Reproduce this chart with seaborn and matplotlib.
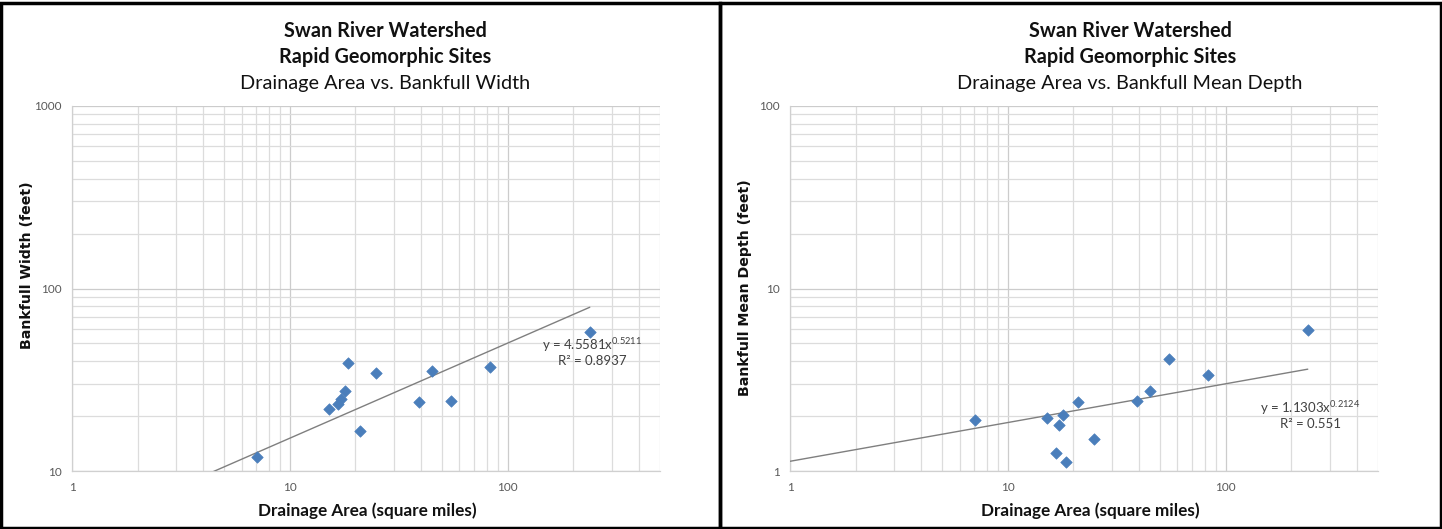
import numpy as np
import pandas as pd
import matplotlib
matplotlib.use("Agg")
import matplotlib.pyplot as plt
from matplotlib.patches import Rectangle
from matplotlib.ticker import LogLocator, FixedLocator, NullFormatter
import seaborn as sns

# drainage area (square miles) for each rapid geomorphic site
area = [7.1, 15.2, 16.7, 17.1, 17.9, 18.4, 20.9, 24.9, 39.1, 44.8, 55.0, 83.3, 238.0]
# bankfull width (feet)
width = [12.0, 22.0, 23.2, 24.7, 27.6, 39.3, 16.5, 34.4, 23.8, 35.2, 24.3, 37.3, 57.5]
# bankfull mean depth (feet)
depth = [1.91, 1.94, 1.26, 1.78, 2.02, 1.12, 2.40, 1.50, 2.41, 2.73, 4.11, 3.36, 5.95]

# power trendlines shown on the charts (coef, exponent, R^2)
width_fit = (4.5581, 0.5211, 0.8937)
depth_fit = (1.1303, 0.2124, 0.551)

df = pd.DataFrame({"area": area, "width": width, "depth": depth})

sns.set_style("white")
plt.rcParams["font.family"] = ["Lato", "DejaVu Sans"]
plt.rcParams["mathtext.fontset"] = "custom"
plt.rcParams["mathtext.rm"] = "Lato"

fig = plt.figure(figsize=(14.42, 5.29), dpi=100)

W, H = 1442.0, 529.0


def px_axes(x0, x1, y0, y1):
    return fig.add_axes([x0 / W, 1 - y1 / H, (x1 - x0) / W, (y1 - y0) / H])


panels = [
    dict(ax=px_axes(72, 660, 106, 471), y="width", fit=width_fit, ylim=(10, 1000),
         ylabel="Bankfull Width (feet)", sub="Drainage Area vs. Bankfull Width",
         title_x=385, ylab_x=27, ylab_y=265, eq_x=592, eq_y=345, xlab_x=367),
    dict(ax=px_axes(790, 1378, 106, 471), y="depth", fit=depth_fit, ylim=(1, 100),
         ylabel="Bankfull Mean Depth (feet)", sub="Drainage Area vs. Bankfull Mean Depth",
         title_x=1130, ylab_x=745, ylab_y=288, eq_x=1310, eq_y=408, xlab_x=1090),
]

for p in panels:
    ax = p["ax"]
    ax.set_xscale("log")
    ax.set_yscale("log")
    ax.set_xlim(1, 500)
    ax.set_ylim(*p["ylim"])

    # grid lines
    ax.xaxis.set_minor_locator(LogLocator(base=10, subs=np.arange(2, 10)))
    ax.yaxis.set_minor_locator(LogLocator(base=10, subs=np.arange(2, 10)))
    ax.xaxis.set_minor_formatter(NullFormatter())
    ax.yaxis.set_minor_formatter(NullFormatter())
    ax.grid(True, which="minor", color="#dcdcdc", lw=0.9)
    ax.grid(True, which="major", color="#cccccc", lw=0.9)
    ax.set_axisbelow(True)

    lo, hi = p["ylim"]
    ax.yaxis.set_major_locator(FixedLocator([lo, lo * 10, hi]))
    ax.xaxis.set_major_locator(FixedLocator([1, 10, 100]))
    ax.set_xticklabels(["1", "10", "100"])
    ax.set_yticklabels([f"{v:g}" for v in [lo, lo * 10, hi]])
    ax.tick_params(axis="both", which="major", labelsize=8.5, colors="#595959",
                   length=4, width=0.8, direction="out", color="#d0d0d0")
    ax.tick_params(axis="x", which="major", pad=8, length=0)
    ax.tick_params(which="minor", length=0)

    for side in ["top", "right"]:
        ax.spines[side].set_visible(False)
    for side in ["left", "bottom"]:
        ax.spines[side].set_color("#d0d0d0")
        ax.spines[side].set_linewidth(0.9)

    # trendline
    a, b, r2 = p["fit"]
    xs = np.geomspace(1, max(area), 50)
    trend = pd.DataFrame({"x": xs, "y": a * xs ** b})
    sns.lineplot(data=trend, x="x", y="y", ax=ax, color="#7f7f7f", lw=1.0, zorder=3)

    sns.scatterplot(data=df, x="area", y=p["y"], ax=ax, marker="D", s=34,
                    color="#4a7ebb", edgecolor="#4a7ebb", linewidth=0.5, zorder=4)

    ax.set_xlabel("")
    ax.set_ylabel("")

    # equation label
    fig.text(p["eq_x"] / W, 1 - p["eq_y"] / H,
             f"y = {a:.4f}x$^{{{b:.4f}}}$", ha="center", va="center",
             fontsize=9.5, color="#404040")
    fig.text(p["eq_x"] / W, 1 - (p["eq_y"] + 16) / H,
             f"R² = {r2:g}", ha="center", va="center", fontsize=9.5, color="#404040")

    # titles
    tx = p["title_x"] / W
    fig.text(tx, 1 - 31 / H, "Swan River Watershed", ha="center", va="center",
             fontsize=14.3, fontweight="bold", color="#111111")
    fig.text(tx, 1 - 57 / H, "Rapid Geomorphic Sites", ha="center", va="center",
             fontsize=14.3, fontweight="bold", color="#111111")
    fig.text(tx, 1 - 84 / H, p["sub"], ha="center", va="center",
             fontsize=14.3, color="#111111")

    fig.text(p["ylab_x"] / W, 1 - p["ylab_y"] / H, p["ylabel"], rotation=90,
             ha="center", va="center", fontsize=10.2, fontweight="bold",
             color="#111111", family=["DejaVu Sans"])
    fig.text(p["xlab_x"] / W, 1 - 511 / H, "Drainage Area (square miles)", ha="center",
             va="center", fontsize=12.3, fontweight="bold", color="#111111")

# outer chart frames
for x0, x1 in [(1, 720), (720, 1441)]:
    fig.add_artist(Rectangle((x0 / W, 1 / H), (x1 - x0) / W, (H - 4) / H,
                             transform=fig.transFigure, fill=False,
                             ec="black", lw=2.5))

fig.savefig("out.png", dpi=100)
